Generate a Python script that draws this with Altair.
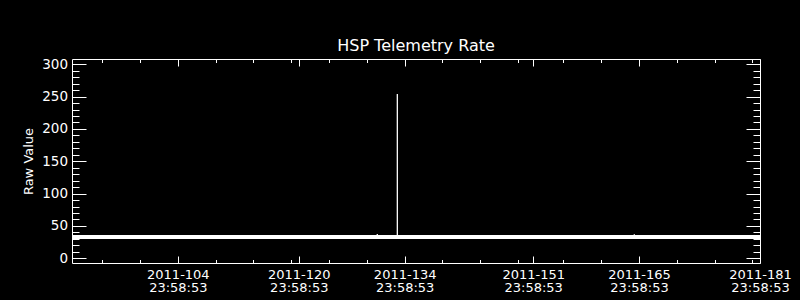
import json
import altair as alt
import pandas as pd

TITLE = "HSP Telemetry Rate"
Y_TITLE = "Raw Value"

# trace: fractional day of year 2011, raw value
trace_day = [91.0, 131.37, 131.38, 131.39, 134.02, 134.03, 134.04, 165.36, 165.37, 165.38, 182.0]
trace_val = [33, 33, 37.5, 33, 33, 254, 33, 33, 37, 33, 33]

# dense band of baseline samples (min / max envelope)
band_start = [91.0]
band_end = [182.0]
band_low = [30.0]
band_high = [36.0]

x_domain = [91.0, 182.0]
y_domain = [-7.3, 308.2]

label_days = [104, 120, 134, 151, 165, 181]
label_year = "2011"
label_time = "23:58:53"
minor_x = [95, 100, 105, 110, 115, 120, 125, 130, 135, 140, 145, 150,
           156, 161, 166, 171, 176, 181]
major_y = [0, 50, 100, 150, 200, 250, 300]
minor_y = [0, 10, 20, 30, 40, 50, 60, 70, 80, 90, 100, 110, 120, 130, 140, 150,
           160, 170, 180, 190, 200, 210, 220, 230, 240, 250, 260, 270, 280, 290, 300]

h, m, s = (int(p) for p in label_time.split(":"))
frac = (h * 3600 + m * 60 + s) / 86400
major_x = [round(d + frac, 5) for d in label_days]
parts = []
for v, d in zip(major_x, label_days):
    parts.append(f"datum.value == {v} ? {json.dumps([f'{label_year}-{d:03d}', label_time])}")
label_expr = " : ".join(parts) + " : ''"

trace_df = pd.DataFrame({"day": trace_day, "value": trace_val})
band_df = pd.DataFrame({"start": band_start, "end": band_end, "low": band_low, "high": band_high})

xs = alt.Scale(domain=x_domain, nice=False, zero=False)
ys = alt.Scale(domain=y_domain, nice=False, zero=False)


def tick_axis(orient, values, size):
    return alt.Axis(orient=orient, values=values, tickSize=size, offset=-size,
                    labels=False, domain=False, grid=False, title="", ticks=True,
                    tickColor="white", tickWidth=1)


band = alt.Chart(band_df).mark_rect(color="white", clip=True).encode(
    x=alt.X("start:Q", scale=xs,
            axis=alt.Axis(orient="bottom", values=major_x, labelExpr=label_expr, ticks=False,
                          tickSize=0, domain=False, grid=False, labelPadding=5,
                          labelFontSize=13, labelLineHeight=13.5,
                          labelFlush=False, labelOverlap=False, title="")),
    x2="end:Q",
    y=alt.Y("low:Q", scale=ys,
            axis=alt.Axis(orient="left", values=major_y, ticks=False, tickSize=0, domain=False,
                          grid=False, labelPadding=4.5, labelFlush=False, labelOverlap=False,
                          title=Y_TITLE, titleX=-44, titleY=102, titleAngle=270,
                          titleAlign="center", titleBaseline="middle", titlePadding=0)),
    y2="high:Q",
)

line = alt.Chart(trace_df).mark_line(color="white", strokeWidth=1, clip=True).encode(
    x=alt.X("day:Q", scale=xs, axis=tick_axis("bottom", major_x, 7)),
    y=alt.Y("value:Q", scale=ys, axis=tick_axis("left", major_y, 14)),
)


def dummy(xaxis, yaxis):
    return alt.Chart(trace_df).mark_line(strokeOpacity=0, clip=True).encode(
        x=alt.X("day:Q", scale=xs, axis=xaxis),
        y=alt.Y("value:Q", scale=ys, axis=yaxis),
    )


d1 = dummy(tick_axis("bottom", minor_x, 3.5), tick_axis("left", minor_y, 7))
d2 = dummy(tick_axis("top", major_x, 7), tick_axis("right", major_y, 14))
d3 = dummy(tick_axis("top", minor_x, 3.5), tick_axis("right", minor_y, 7))

chart = alt.layer(band, line, d1, d2, d3).resolve_axis(
    x="independent", y="independent"
).properties(
    width=688,
    height=204,
    autosize=alt.AutoSizeParams(type="none"),
    padding={"left": 72, "top": 59, "right": 40, "bottom": 37},
    background="black",
    title=alt.TitleParams(TITLE, color="white", font="DejaVu Sans", fontSize=16,
                          fontWeight="normal", anchor="middle", baseline="alphabetic",
                          offset=6.7, dy=16, frame="group"),
).configure_view(
    stroke="white", strokeWidth=1
).configure_axis(
    labelFont="DejaVu Sans", labelFontSize=13.5, labelColor="white",
    titleFont="DejaVu Sans", titleFontSize=13, titleColor="white", titleFontWeight="normal",
    tickColor="white", domainColor="white",
)

chart.save("out.html", embed_options={"renderer": "svg", "actions": False})
